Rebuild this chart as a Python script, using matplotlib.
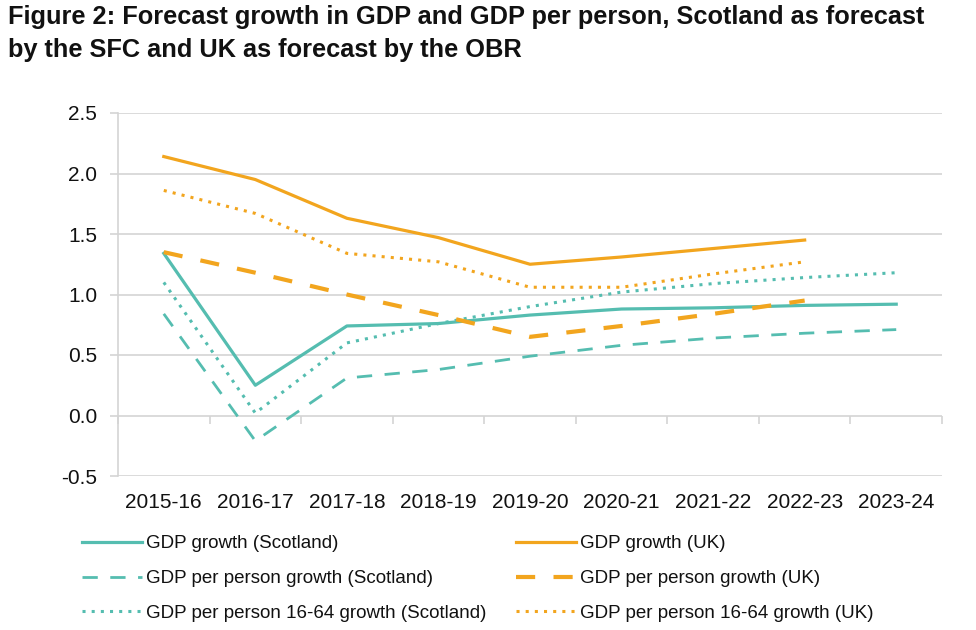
import matplotlib
matplotlib.use("Agg")
import matplotlib.pyplot as plt
import numpy as np

plt.rcParams['font.family'] = ['Liberation Sans', 'DejaVu Sans']

years = ["2015-16", "2016-17", "2017-18", "2018-19", "2019-20",
         "2020-21", "2021-22", "2022-23", "2023-24"]

gdp_scot = [1.34, 0.25, 0.74, 0.76, 0.83, 0.88, 0.89, 0.91, 0.92]
gdp_pp_scot = [0.84, -0.21, 0.31, 0.38, 0.49, 0.58, 0.64, 0.68, 0.71]
gdp_pp1664_scot = [1.10, 0.02, 0.60, 0.76, 0.90, 1.02, 1.09, 1.14, 1.18]

gdp_uk = [2.14, 1.95, 1.63, 1.47, 1.25, 1.31, 1.38, 1.45]
gdp_pp_uk = [1.35, 1.18, 1.00, 0.83, 0.65, 0.74, 0.84, 0.95]
gdp_pp1664_uk = [1.86, 1.67, 1.34, 1.27, 1.06, 1.06, 1.17, 1.27]

labels_scot = ["GDP growth (Scotland)", "GDP per person growth (Scotland)",
               "GDP per person 16-64 growth (Scotland)"]
labels_uk = ["GDP growth (UK)", "GDP per person growth (UK)",
             "GDP per person 16-64 growth (UK)"]

yticks = [-0.5, 0.0, 0.5, 1.0, 1.5, 2.0, 2.5]

TEAL = "#55BDB0"
ORANGE = "#F2A51E"
GRID = "#D4D4D4"

fig = plt.figure(figsize=(9.76, 6.3), dpi=100)
ax = fig.add_axes([118/976, 1-476/630, (942-118)/976, (476-113)/630])

x_s = np.arange(len(gdp_scot))
x_u = np.arange(len(gdp_uk))

h = []
h += ax.plot(x_s, gdp_scot, color=TEAL, lw=2.3, label=labels_scot[0])
h += ax.plot(x_s, gdp_pp_scot, color=TEAL, lw=2.0, linestyle=(0, (5.5, 4.5)), label=labels_scot[1])
h += ax.plot(x_s, gdp_pp1664_scot, color=TEAL, lw=2.2, linestyle=(0, (1, 2)), label=labels_scot[2])
h += ax.plot(x_u, gdp_uk, color=ORANGE, lw=2.3, label=labels_uk[0])
h += ax.plot(x_u, gdp_pp_uk, color=ORANGE, lw=3.0, linestyle=(0, (4.6, 4.4)), label=labels_uk[1])
h += ax.plot(x_u, gdp_pp1664_uk, color=ORANGE, lw=2.2, linestyle=(0, (1, 2)), label=labels_uk[2])

ax.set_xlim(-0.5, len(years) - 0.5)
ax.set_ylim(-0.5, 2.5)
ax.set_yticks(yticks)
ax.set_yticklabels([f"{v:.1f}" for v in yticks])
ax.set_xticks(np.arange(len(years)))
ax.set_xticklabels(years)

for s in ["top", "right", "bottom"]:
    ax.spines[s].set_visible(False)
ax.spines["left"].set_color(GRID)
ax.spines["left"].set_linewidth(1.2)
ax.yaxis.grid(True, color=GRID, lw=1.2)
ax.set_axisbelow(True)
ax.tick_params(axis="y", length=6, color=GRID, width=1.2, pad=9, labelsize=15, labelcolor="#111111")
ax.tick_params(axis="x", length=0, pad=12, labelsize=15, labelcolor="#111111")

# category boundary tick marks on the zero line
sec = ax.secondary_xaxis(1/6)
sec.set_xticks(np.arange(len(years) + 1) - 0.5)
sec.set_xticklabels([])
sec.spines["bottom"].set_visible(False)
sec.tick_params(axis="x", length=6, color=GRID, width=1.2, direction="out")

fig.text(8/976, 1-5/630,
         "Figure 2: Forecast growth in GDP and GDP per person, Scotland as forecast\n"
         "by the SFC and UK as forecast by the OBR",
         ha="left", va="top", fontsize=18.3, fontweight="bold", linespacing=1.5,
         color="#111111")

fig.legend(handles=h, ncol=2, loc="upper left",
           bbox_to_anchor=(82/976, 1-535/630), frameon=False,
           fontsize=13.5, handlelength=3.2, handletextpad=0.2,
           columnspacing=1.6, labelspacing=0.95, borderpad=0, borderaxespad=0,
           labelcolor="#111111")

fig.savefig("out.png", dpi=100)
